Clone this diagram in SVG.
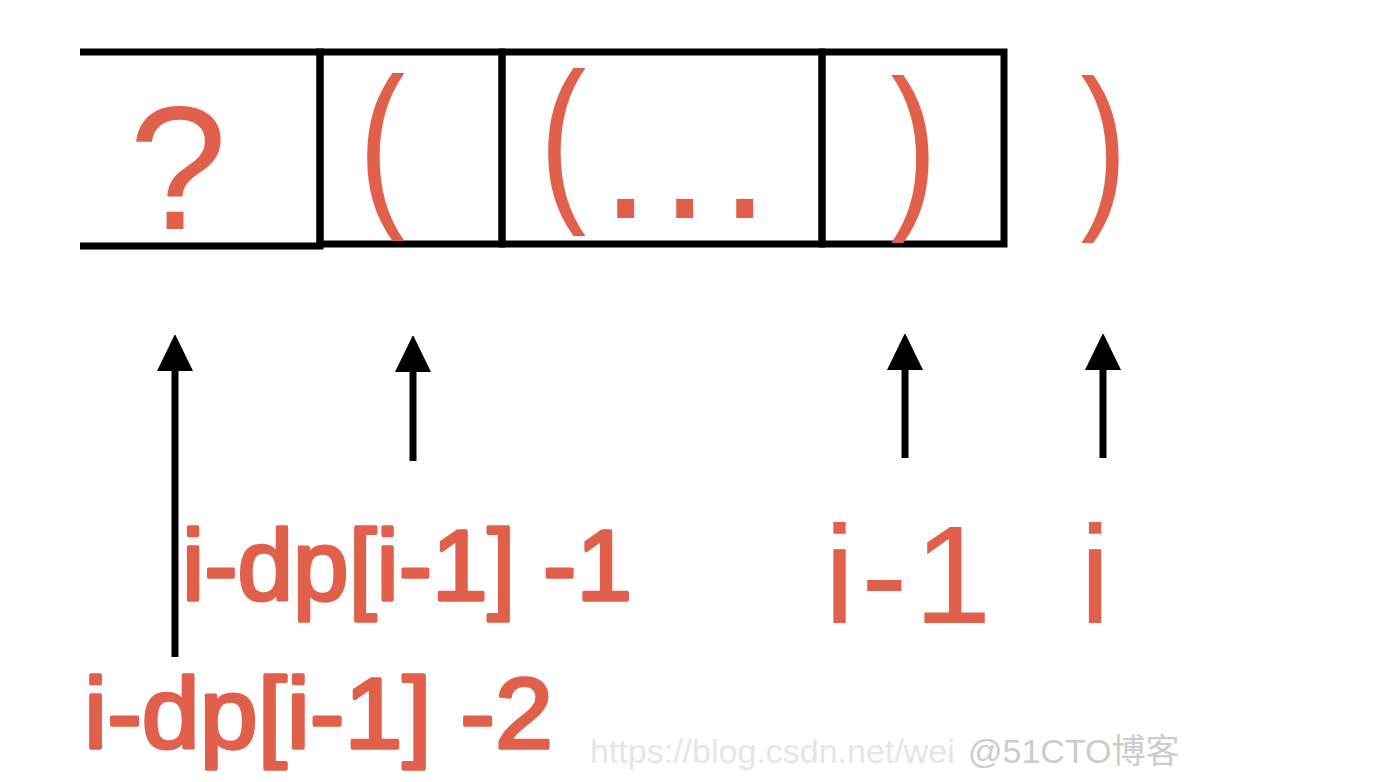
<svg xmlns="http://www.w3.org/2000/svg" width="1382" height="782" viewBox="0 0 1382 782">
  <style>
    .box { fill: none; stroke: #000; stroke-width: 7; stroke-linejoin: miter; }
    .red { fill: #E0604B; font-family: "Liberation Sans", Arial, sans-serif; }
    .paren { font-size: 180px; text-anchor: middle; }
    .lbl { font-size: 100px; stroke: #E0604B; stroke-width: 3.5; stroke-linejoin: round; }
    .big { font-size: 140px; }
    .arrow { stroke: #000; stroke-width: 7; fill: none; }
    .wm1 { fill: #e6e6e6; font-family: "Liberation Sans", Arial, sans-serif; font-size: 34px; }
    .wm2 { fill: #cccccc; font-family: "Liberation Sans", "Noto Sans CJK SC", sans-serif; font-size: 34px; }
  </style>
  <defs>
    <marker id="head" viewBox="0 0 36 36" markerWidth="36" markerHeight="36" markerUnits="userSpaceOnUse" refX="1" refY="18" orient="auto">
      <path d="M0,0 L37,18 L0,36 z" fill="#000"/>
    </marker>
  </defs>
  <rect width="1382" height="782" fill="#fff"/>

  <g id="cell-q">
    <path class="box" d="M80,52 H320 V246 H80"/>
    <text class="red" x="178" y="229" font-size="177" text-anchor="middle">?</text>
  </g>
  <g id="cell-open1">
    <rect class="box" x="320" y="52" width="182" height="192"/>
    <text class="red paren" transform="translate(382,0) scale(0.78,1)" x="0" y="204">(</text>
  </g>
  <g id="cell-open2">
    <rect class="box" x="502" y="52" width="320" height="192"/>
    <text class="red paren" transform="translate(563,0) scale(0.78,1)" x="0" y="199">(</text>
    <text class="red" font-size="178" y="218"><tspan x="601">.</tspan><tspan x="660">.</tspan><tspan x="720">.</tspan></text>
  </g>
  <g id="cell-close1">
    <rect class="box" x="822" y="52" width="182" height="192"/>
    <text class="red paren" transform="translate(914,0) scale(0.78,1)" x="0" y="206">)</text>
  </g>
  <g id="close-outside">
    <text class="red paren" transform="translate(1104,0) scale(0.78,1)" x="0" y="206">)</text>
  </g>

  <g id="connectors">
    <line class="arrow" x1="175" y1="657" x2="175" y2="370" marker-end="url(#head)"/>
    <line class="arrow" x1="413" y1="461" x2="413" y2="371" marker-end="url(#head)"/>
    <line class="arrow" x1="905" y1="458" x2="905" y2="369" marker-end="url(#head)"/>
    <line class="arrow" x1="1103" y1="458" x2="1103" y2="369" marker-end="url(#head)"/>
  </g>

  <g id="label-start1">
    <text class="red lbl" x="182" y="600" textLength="450" lengthAdjust="spacingAndGlyphs">i-dp[i-1] -1</text>
  </g>
  <g id="label-start2">
    <text class="red lbl" x="84" y="748" textLength="469" lengthAdjust="spacingAndGlyphs">i-dp[i-1] -2</text>
  </g>
  <g id="label-i-1">
    <text class="red big" x="824" y="623" letter-spacing="6">i-1</text>
  </g>
  <g id="label-i">
    <text class="red big" x="1095" y="623" text-anchor="middle">i</text>
  </g>

  <g id="watermark">
    <text class="wm1" x="590" y="763">https://blog.csdn.net/wei</text>
    <text class="wm2" x="968" y="763">@51CTO博客</text>
  </g>
</svg>
